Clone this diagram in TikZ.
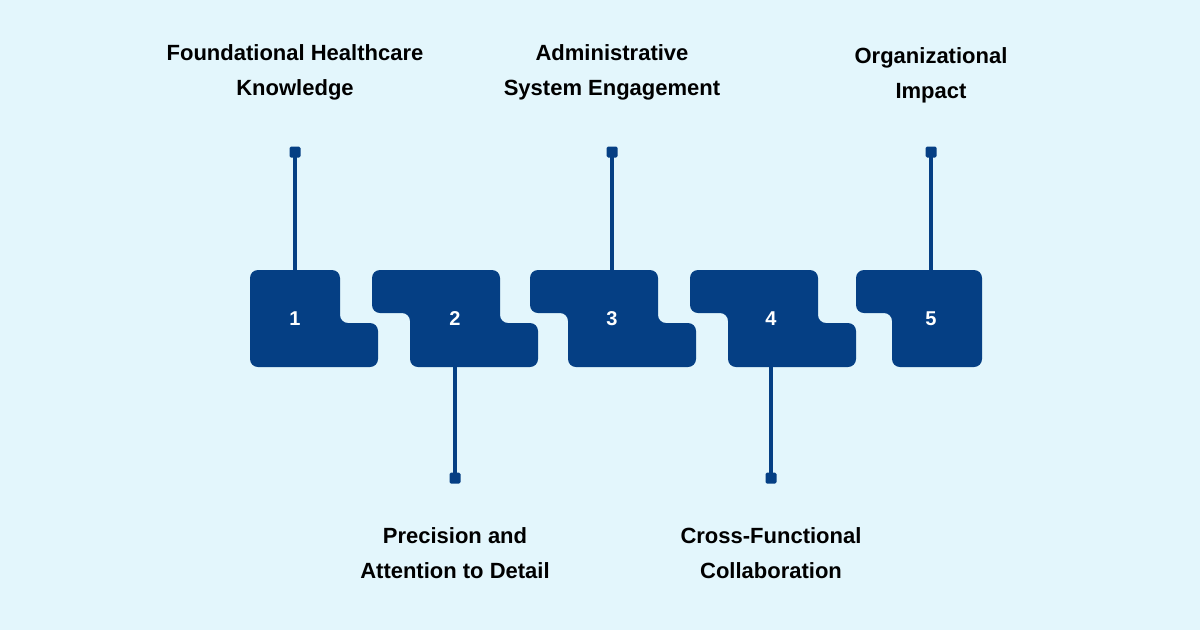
\documentclass[tikz,border=0pt]{standalone}
\usepackage{fontspec}
\setmainfont{Liberation Sans}
\usetikzlibrary{positioning}
\definecolor{bgblue}{HTML}{E3F6FC}
\definecolor{navy}{HTML}{053F84}
\tikzset{
  block/.style={fill=navy,rounded corners=8pt},
  num/.style={text=white,font=\bfseries\fontsize{20}{24}\selectfont},
  stem/.style={draw=navy,line width=3.5pt},
  tip/.style={fill=navy,minimum size=11pt,inner sep=0pt,rounded corners=1.5pt},
  label/.style={align=center,font=\bfseries\fontsize{22}{35}\selectfont}
}
\begin{document}
\begin{tikzpicture}[x=1pt,y=-1pt]
\fill[bgblue] (0,0) rectangle (1200,630);
\useasboundingbox (0,0) rectangle (1200,630);
% blocks
\fill[block] (250,270) -- (340,270) -- (340,323) -- (378,323) -- (378,367) -- (250,367) -- cycle;
\foreach \x in {372,530,690}
  \fill[block] (\x,270) -- (\x+128,270) -- (\x+128,323) -- (\x+166,323) -- (\x+166,367)
    -- (\x+38,367) -- (\x+38,313) -- (\x,313) -- cycle;
\fill[block] (856,270) -- (982,270) -- (982,367) -- (892,367) -- (892,313) -- (856,313) -- cycle;
\node[num] (n1) at (295,319) {1};
\node[num] (n2) at (455,319) {2};
\node[num] (n3) at (612,319) {3};
\node[num] (n4) at (771,319) {4};
\node[num] (n5) at (931,319) {5};
% stems
\coordinate (b1) at (295,270);
\coordinate (b2) at (455,367);
\coordinate (b3) at (612,270);
\coordinate (b4) at (771,367);
\coordinate (b5) at (931,270);
\node[tip] (t1) at (295,152) {};
\node[tip] (t2) at (455,478) {};
\node[tip] (t3) at (612,152) {};
\node[tip] (t4) at (771,478) {};
\node[tip] (t5) at (931,152) {};
\foreach \i in {1,...,5} \draw[stem] (t\i.center) -- (b\i);
% labels
\node[label] (l1) at (295,72) {Foundational Healthcare\\Knowledge};
\node[label] (l3) at (612,72) {Administrative\\System Engagement};
\node[label] (l5) at (931,75) {Organizational\\Impact};
\node[label] (l2) at (455,553) {Precision and\\Attention to Detail};
\node[label] (l4) at (771,553) {Cross-Functional\\Collaboration};
\end{tikzpicture}
\end{document}
